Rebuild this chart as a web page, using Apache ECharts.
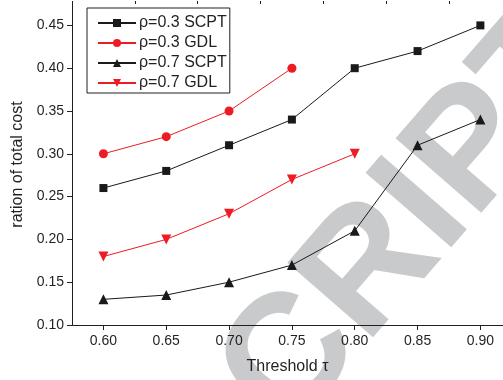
<!DOCTYPE html>
<html>
<head>
<meta charset="utf-8">
<script src="https://cdn.jsdelivr.net/npm/echarts@6/dist/echarts.min.js"></script>
<style>
  html, body { margin: 0; padding: 0; background: #fff; }
  #chart { width: 503px; height: 380px; }
</style>
</head>
<body>
<div id="chart"></div>
<script>
// Threshold values on the x axis
const thresholds = [0.60, 0.65, 0.70, 0.75, 0.80, 0.85, 0.90];

// Ratio of total cost for each configuration
const rho03SCPT = [0.26, 0.28, 0.31, 0.34, 0.40, 0.42, 0.45];
const rho03GDL  = [0.30, 0.32, 0.35, 0.40];
const rho07SCPT = [0.13, 0.135, 0.15, 0.17, 0.21, 0.31, 0.34];
const rho07GDL  = [0.18, 0.20, 0.23, 0.27, 0.30];

// Tick positions
const xMajorTicks = [0.60, 0.65, 0.70, 0.75, 0.80, 0.85, 0.90];
const xMinorTicks = [0.575, 0.625, 0.675, 0.725, 0.775, 0.825, 0.875];
const yMajorTicks = [0.10, 0.15, 0.20, 0.25, 0.30, 0.35, 0.40, 0.45];
const yMinorTicks = [0.125, 0.175, 0.225, 0.275, 0.325, 0.375, 0.425, 0.475];

const pair = (xs, ys) => ys.map((y, i) => [xs[i], y]);

const ink = '#231f20';
const red = '#ed1c24';
const font = 'Liberation Sans, Arial, sans-serif';

const chart = echarts.init(document.getElementById('chart'), null, { renderer: 'canvas' });

const axisCommon = {
  type: 'value',
  splitLine: { show: false },
  axisLine: { show: true, lineStyle: { color: ink, width: 1 } }
};

chart.setOption({
  animation: false,
  backgroundColor: '#fff',
  graphic: [{
    type: 'text',
    z: -10,
    silent: true,
    x: 578,
    y: 32,
    rotation: 49 * Math.PI / 180,
    style: {
      text: 'ACCEPTED MANUSCRIPT',
      fill: '#c9cacc',
      font: 'bold 165px "Liberation Sans", Arial, sans-serif',
      textAlign: 'right',
      textVerticalAlign: 'middle'
    }
  }],
  grid: { left: 72, right: 0, top: 4, bottom: 52, containLabel: false },
  legend: {
    left: 87,
    top: 8,
    orient: 'vertical',
    backgroundColor: '#fff',
    borderColor: ink,
    borderWidth: 1,
    borderRadius: 0,
    padding: [7, 3, 2, 10],
    itemGap: 4,
    itemWidth: 38,
    itemHeight: 10,
    textStyle: { fontFamily: font, fontSize: 16, color: ink, padding: [0, 0, 0, -2] },
    data: ['ρ=0.3 SCPT', 'ρ=0.3 GDL', 'ρ=0.7 SCPT', 'ρ=0.7 GDL']
  },
  xAxis: [
    Object.assign({}, axisCommon, {
      min: 0.575, max: 0.918,
      name: 'Threshold τ',
      nameLocation: 'middle',
      nameGap: 34,
      nameTextStyle: { fontFamily: font, fontSize: 16, color: ink },
      axisTick: { show: true, length: 5, lineStyle: { color: ink }, customValues: xMajorTicks },
      axisLabel: {
        fontFamily: font, fontSize: 14, color: ink, margin: 9,
        customValues: xMajorTicks,
        formatter: v => v.toFixed(2)
      }
    }),
    Object.assign({}, axisCommon, {
      min: 0.575, max: 0.918,
      axisLine: { show: false },
      axisTick: { show: true, length: 3, lineStyle: { color: ink }, customValues: xMinorTicks },
      axisLabel: { show: false }
    })
  ],
  yAxis: [
    Object.assign({}, axisCommon, {
      min: 0.10, max: 0.475,
      name: 'ration of total cost',
      nameLocation: 'middle',
      nameGap: 40,
      nameTextStyle: { fontFamily: font, fontSize: 16, color: ink },
      axisTick: { show: true, length: 5, lineStyle: { color: ink }, customValues: yMajorTicks },
      axisLabel: {
        fontFamily: font, fontSize: 14, color: ink, margin: 8,
        customValues: yMajorTicks,
        formatter: v => v.toFixed(2)
      }
    }),
    Object.assign({}, axisCommon, {
      min: 0.10, max: 0.475,
      axisLine: { show: false },
      axisTick: { show: true, length: 3, lineStyle: { color: ink }, customValues: yMinorTicks },
      axisLabel: { show: false }
    })
  ],
  series: [
    {
      name: 'ρ=0.3 SCPT', type: 'line', data: pair(thresholds, rho03SCPT),
      symbol: 'rect', symbolSize: 8, showAllSymbol: true,
      itemStyle: { color: '#1a1a1a' }, lineStyle: { color: '#1a1a1a', width: 1 }
    },
    {
      name: 'ρ=0.3 GDL', type: 'line', data: pair(thresholds, rho03GDL),
      symbol: 'circle', symbolSize: 9, showAllSymbol: true,
      itemStyle: { color: red }, lineStyle: { color: red, width: 1 }
    },
    {
      name: 'ρ=0.7 SCPT', type: 'line', data: pair(thresholds, rho07SCPT),
      symbol: 'triangle', symbolSize: 10, showAllSymbol: true,
      itemStyle: { color: '#1a1a1a' }, lineStyle: { color: '#1a1a1a', width: 1 }
    },
    {
      name: 'ρ=0.7 GDL', type: 'line', data: pair(thresholds, rho07GDL),
      symbol: 'triangle', symbolRotate: 180, symbolSize: 10, showAllSymbol: true,
      itemStyle: { color: red }, lineStyle: { color: red, width: 1 }
    }
  ]
});
</script>
</body>
</html>
